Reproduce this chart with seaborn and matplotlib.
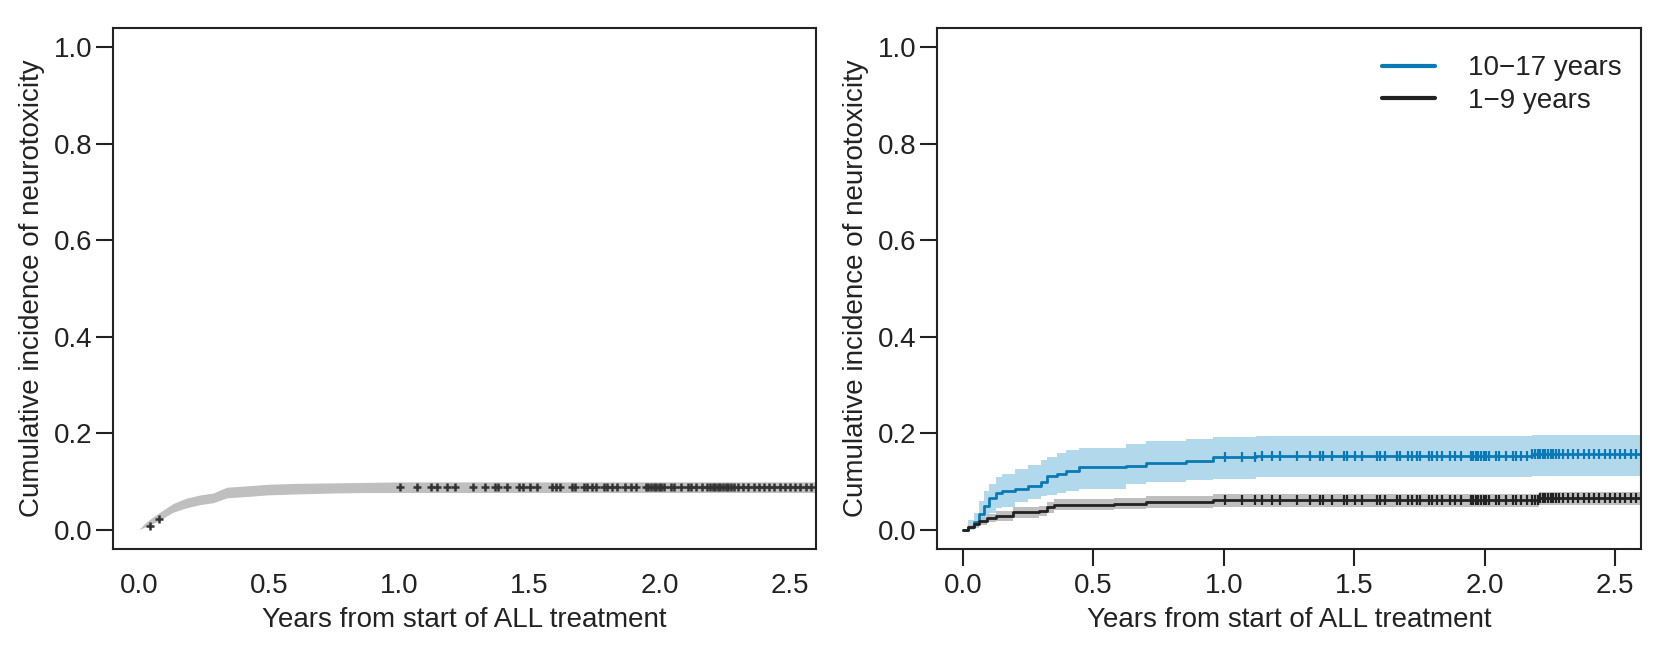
import numpy as np
import matplotlib
matplotlib.use("Agg")
import matplotlib.pyplot as plt
import seaborn as sns

# overall cumulative incidence (left panel)
t_all = [0, 0.016, 0.04, 0.08, 0.13, 0.18, 0.235, 0.285, 0.337, 0.42, 0.49, 0.6, 0.745, 0.87, 1.0, 2.6]
ci_all = [0, 0.007, 0.015, 0.028, 0.045, 0.055, 0.062, 0.066, 0.077, 0.080, 0.083, 0.085, 0.086, 0.087, 0.088, 0.088]
lo_all = [0, 0.004, 0.009, 0.020, 0.036, 0.045, 0.052, 0.056, 0.066, 0.069, 0.072, 0.074, 0.076, 0.077, 0.077, 0.077]
hi_all = [0, 0.010, 0.021, 0.036, 0.054, 0.065, 0.072, 0.076, 0.088, 0.091, 0.094, 0.096, 0.097, 0.098, 0.099, 0.099]
cens_early = [0.042, 0.077]
cens_early_y = [0.008, 0.023]

# 10-17 years
t_old = [0, 0.02, 0.04, 0.06, 0.08, 0.1, 0.127, 0.15, 0.2, 0.25, 0.3, 0.32, 0.36, 0.395, 0.446, 0.626, 0.7, 0.856, 0.96, 1.125, 2.18, 2.6]
ci_old = [0, 0.005, 0.015, 0.033, 0.05, 0.065, 0.077, 0.08, 0.085, 0.09, 0.098, 0.112, 0.115, 0.122, 0.129, 0.133, 0.139, 0.143, 0.150, 0.152, 0.156, 0.156]
lo_old = [0, 0, 0.003, 0.013, 0.025, 0.035, 0.044, 0.048, 0.057, 0.064, 0.07, 0.072, 0.076, 0.08, 0.085, 0.095, 0.098, 0.103, 0.106, 0.109, 0.112, 0.112]
hi_old = [0, 0.02, 0.035, 0.06, 0.08, 0.095, 0.11, 0.116, 0.125, 0.135, 0.145, 0.15, 0.158, 0.165, 0.17, 0.178, 0.183, 0.188, 0.192, 0.195, 0.197, 0.197]

# 1-9 years
t_young = [0, 0.02, 0.04, 0.06, 0.09, 0.127, 0.19, 0.29, 0.32, 0.35, 0.58, 0.7, 0.96, 2.21, 2.6]
ci_young = [0, 0.006, 0.012, 0.018, 0.024, 0.029, 0.036, 0.039, 0.046, 0.052, 0.054, 0.058, 0.061, 0.065, 0.065]
lo_young = [0, 0.002, 0.006, 0.010, 0.015, 0.019, 0.025, 0.028, 0.034, 0.040, 0.042, 0.045, 0.048, 0.052, 0.052]
hi_young = [0, 0.010, 0.018, 0.026, 0.033, 0.039, 0.047, 0.050, 0.058, 0.064, 0.066, 0.070, 0.074, 0.078, 0.078]

# censoring times
cens = [1.004, 1.068, 1.12, 1.145, 1.183, 1.215, 1.282, 1.33, 1.367, 1.38, 1.414, 1.46, 1.474,
        1.503, 1.528, 1.586, 1.6, 1.618, 1.663, 1.676, 1.708, 1.72, 1.74, 1.753, 1.785, 1.798,
        1.817, 1.836, 1.868, 1.888, 1.908, 1.946, 1.956, 1.966, 1.976, 1.986, 1.996, 2.006,
        2.017, 2.043, 2.055, 2.081, 2.107, 2.119, 2.14, 2.163, 2.183, 2.193, 2.203, 2.213,
        2.223, 2.233, 2.243, 2.253, 2.263, 2.273, 2.286, 2.30, 2.32, 2.34, 2.36, 2.38, 2.40,
        2.42, 2.44, 2.46, 2.48, 2.50, 2.52, 2.54, 2.56, 2.58]

ylab = "Cumulative incidence of neurotoxicity"
xlab = "Years from start of ALL treatment"
yticks = [0.0, 0.2, 0.4, 0.6, 0.8, 1.0]
xticks = [0.0, 0.5, 1.0, 1.5, 2.0, 2.5]

BLUE = "#0a7ab6"
BLUE_BAND = "#b2d8eb"
DARK = "#222222"
GREY_BAND = "#bfbfbf"


def step_at(t, y, x):
    idx = np.searchsorted(np.asarray(t), np.asarray(x), side="right") - 1
    return np.asarray(y)[idx]


sns.set_theme(style="ticks")
plt.rcParams["font.family"] = ["Liberation Sans", "DejaVu Sans"]
plt.rcParams["axes.unicode_minus"] = True

fig = plt.figure(figsize=(16.59, 6.54), dpi=100)
ax1 = fig.add_axes([0.0681, 0.1606, 0.4238, 0.7966])
ax2 = fig.add_axes([0.5648, 0.1606, 0.4244, 0.7966])

# left panel
ax1.fill_between(t_all, lo_all, hi_all, color=GREY_BAND, lw=0)
ax1.plot(cens_early, cens_early_y, ls="none", marker="+", ms=6, mew=1.8, color="#333333")
ax1.plot(cens, step_at(t_all, ci_all, cens), ls="none", marker="+",
         ms=6, mew=1.8, color="#333333")

# right panel
ax2.fill_between(t_old, lo_old, hi_old, step="post", color=BLUE_BAND, lw=0)
ax2.fill_between(t_young, lo_young, hi_young, step="post", color=GREY_BAND, lw=0)
sns.lineplot(x=t_old, y=ci_old, ax=ax2, color=BLUE, lw=2, drawstyle="steps-post",
             label="10\u221217 years")
sns.lineplot(x=t_young, y=ci_young, ax=ax2, color=DARK, lw=2, drawstyle="steps-post",
             label="1\u22129 years")
ax2.plot(cens, step_at(t_old, ci_old, cens), ls="none", marker="|", ms=7, mew=1.6, color=BLUE)
ax2.plot(cens, step_at(t_young, ci_young, cens), ls="none", marker="|", ms=7, mew=1.6, color=DARK)

leg = ax2.legend(loc="upper right", frameon=False, fontsize=20, handlelength=1.9,
                 handletextpad=1.2, labelspacing=0.25, borderaxespad=0.3,
                 bbox_to_anchor=(1.0, 0.985))
for h in leg.get_lines():
    h.set_linewidth(3)
for t in leg.get_texts():
    t.set_color(DARK)

for ax in (ax1, ax2):
    ax.set_xlim(-0.1, 2.6)
    ax.set_ylim(-0.04, 1.04)
    ax.set_xticks(xticks)
    ax.set_yticks(yticks)
    ax.set_xticklabels([f"{v:.1f}" for v in xticks])
    ax.set_yticklabels([f"{v:.1f}" for v in yticks])
    ax.set_xlabel(xlab, fontsize=20, color=DARK, labelpad=6)
    ax.set_ylabel(ylab, fontsize=20, color=DARK, labelpad=6)
    ax.tick_params(labelsize=20, colors=DARK, length=12, width=1.5, pad=3)
    for s in ax.spines.values():
        s.set_visible(True)
        s.set_color(DARK)
        s.set_linewidth(1.5)

ax2.tick_params(axis="x", pad=5)
ax1.tick_params(axis="x", length=0, pad=17)

fig.savefig("out.png", dpi=100, facecolor="white")
